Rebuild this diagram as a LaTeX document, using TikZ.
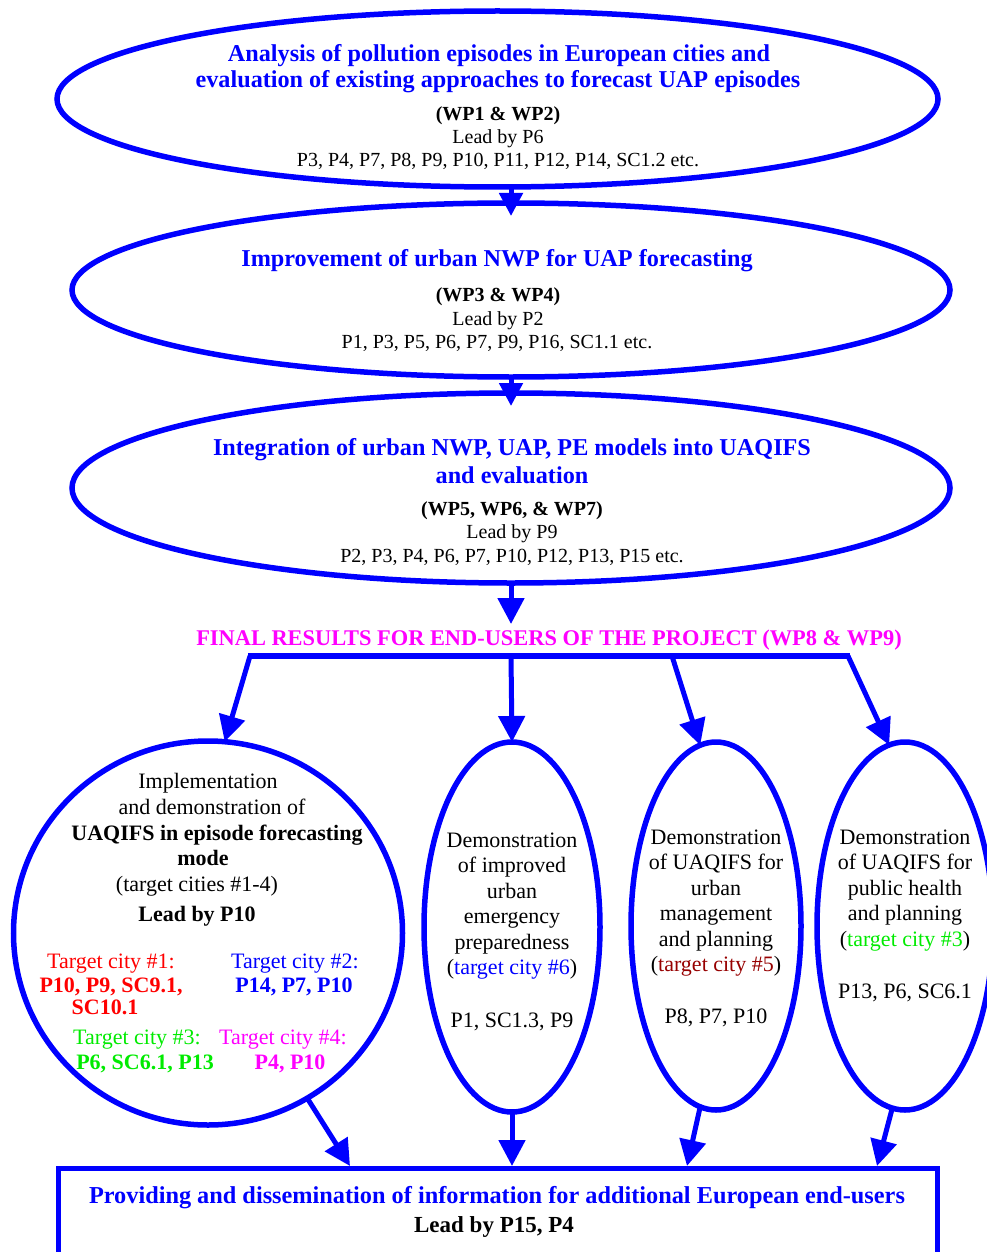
\documentclass[tikz,border=0pt]{standalone}
\usepackage{fontspec}
\setmainfont{Liberation Serif}
\usetikzlibrary{shapes.geometric,arrows.meta,calc}
\definecolor{pblue}{RGB}{0,0,255}
\definecolor{pmag}{RGB}{255,0,255}
\definecolor{pgreen}{RGB}{0,235,0}
\definecolor{pred}{RGB}{255,0,0}
\definecolor{pdred}{RGB}{150,0,0}
\begin{document}
\begin{tikzpicture}[x=1pt,y=-1pt,
  ell/.style={draw=pblue,line width=5.5pt,ellipse,inner sep=0pt,outer sep=0pt},
  title/.style={anchor=base,inner sep=0pt,text=pblue,font=\fontsize{24.2}{28}\selectfont\bfseries},
  info/.style={anchor=base,inner sep=0pt,font=\fontsize{20}{23}\selectfont},
  infob/.style={anchor=base,inner sep=0pt,font=\fontsize{20}{23}\selectfont\bfseries},
  body/.style={anchor=base,inner sep=0pt,font=\fontsize{22}{25.5}\selectfont},
  bodyb/.style={anchor=base,inner sep=0pt,font=\fontsize{22}{25.5}\selectfont\bfseries},
  arr/.style={draw=pblue,line width=5pt,-{Triangle[length=26pt,width=26pt]}},
  sarr/.style={draw=pblue,line width=5pt,-{Triangle[length=23pt,width=23pt]}}]
\useasboundingbox (0,0) rectangle (986,1252);

% top ellipses
\node[ell,minimum width=881pt,minimum height=176pt] (e1) at (497.5,99) {};
\node[ell,minimum width=878pt,minimum height=174pt] (e2) at (511,290) {};
\node[ell,minimum width=878pt,minimum height=190pt] (e3) at (511,488) {};

\node[title] (t1a) at (499,62) {Analysis of pollution episodes in European cities and};
\node[title] (t1b) at (498,88) {evaluation of existing approaches to forecast UAP episodes};
\node[infob] (t1c) at (498,121) {(WP1 \& WP2)};
\node[info] (t1d) at (498,144) {Lead by P6};
\node[info] (t1e) at (498,167) {P3, P4, P7, P8, P9, P10, P11, P12, P14, SC1.2 etc.};

\node[title] (t2a) at (497,266) {Improvement of urban NWP for UAP forecasting};
\node[infob] (t2b) at (498,301) {(WP3 \& WP4)};
\node[info] (t2c) at (498,325) {Lead by P2};
\node[info] (t2d) at (497,348) {P1, P3, P5, P6, P7, P9, P16, SC1.1 etc.};

\node[title] (t3a) at (512,455) {Integration of urban NWP, UAP, PE models into UAQIFS};
\node[title] (t3b) at (512,483) {and evaluation};
\node[infob] (t3c) at (512,515) {(WP5, WP6, \& WP7)};
\node[info] (t3d) at (512,538) {Lead by P9};
\node[info] (t3e) at (512,562) {P2, P3, P4, P6, P7, P10, P12, P13, P15 etc.};

\coordinate (a2) at ($(e2.north)+(0,13)$);
\coordinate (a3) at ($(e3.north)+(0,13)$);
\draw[sarr] (e1.south -| e2.north) -- (a2);
\draw[sarr] (e2.south -| e3.north) -- (a3);

% final results
\node[anchor=base,inner sep=0pt,text=pmag,font=\fontsize{22.4}{26}\selectfont\bfseries] (fin) at (549,645) {FINAL RESULTS FOR END-USERS OF THE PROJECT (WP8 \& WP9)};
\coordinate (fintop) at (511,624);
\draw[arr] (e3.south) -- (fintop);
\coordinate (bl) at (248,656);
\coordinate (b2) at (511,656);
\coordinate (b3) at (672,656);
\coordinate (br) at (850,656);
\draw[pblue,line width=6pt] (bl) -- (br);

% bottom ellipses
\node[ell,minimum width=389pt,minimum height=384pt] (c1) at (208,933) {};
\node[ell,minimum width=176pt,minimum height=370pt] (c2) at (512,927) {};
\node[ell,minimum width=170pt,minimum height=368pt] (c3) at (716,926) {};
\node[ell,minimum width=176pt,minimum height=368pt] (c4) at (905,926) {};

\draw[arr] ($(bl)+(2,0)$) -- (c1.85);
\draw[arr] (b2) -- (c2.north);
\draw[arr] (b3) -- (c3.95);
\draw[arr] ($(br)+(-2,0)$) -- (c4.95);

% circle text
\node[body] (c1a) at (208,788) {Implementation};
\node[body] (c1b) at (212,814) {and demonstration of};
\node[bodyb] (c1c) at (217,840) {UAQIFS in episode forecasting};
\node[bodyb] (c1d) at (203,865) {mode};
\node[body] (c1e) at (197,891) {(target cities \#1-4)};
\node[bodyb] (c1f) at (197,921) {Lead by P10};
\node[body,text=pred] (c1g) at (111,968) {Target city \#1:};
\node[bodyb,text=pred] (c1h) at (111,992) {P10, P9, SC9.1,};
\node[bodyb,text=pred] (c1i) at (105,1014) {SC10.1};
\node[body,text=pblue] (c1j) at (295,968) {Target city \#2:};
\node[bodyb,text=pblue] (c1k) at (294,992) {P14, P7, P10};
\node[body,text=pgreen] (c1l) at (137,1044) {Target city \#3:};
\node[bodyb,text=pgreen] (c1m) at (145,1069) {P6, SC6.1, P13};
\node[body,text=pmag] (c1n) at (283,1044) {Target city \#4:};
\node[bodyb,text=pmag] (c1o) at (290,1069) {P4, P10};

% ellipse 2 text
\node[body] (c2a) at (512,847) {Demonstration};
\node[body] (c2b) at (512,872.5) {of improved};
\node[body] (c2c) at (512,898) {urban};
\node[body] (c2d) at (512,923.5) {emergency};
\node[body] (c2e) at (512,949) {preparedness};
\node[body] (c2f) at (512,974.5) {(\textcolor{pblue}{target city \#6})};
\node[body] (c2g) at (512,1027) {P1, SC1.3, P9};

% ellipse 3 text
\node[body] (c3a) at (716,844) {Demonstration};
\node[body] (c3b) at (716,869.5) {of UAQIFS for};
\node[body] (c3c) at (716,895) {urban};
\node[body] (c3d) at (716,920.5) {management};
\node[body] (c3e) at (716,946) {and planning};
\node[body] (c3f) at (716,971.5) {(\textcolor{pdred}{target city \#5})};
\node[body] (c3g) at (716,1023) {P8, P7, P10};

% ellipse 4 text
\node[body] (c4a) at (905,844) {Demonstration};
\node[body] (c4b) at (905,869.5) {of UAQIFS for};
\node[body] (c4c) at (905,895) {public health};
\node[body] (c4d) at (905,920.5) {and planning};
\node[body] (c4e) at (905,946) {(\textcolor{pgreen}{target city \#3})};
\node[body] (c4f) at (905,998) {P13, P6, SC6.1};

% bottom rectangle
\node[draw=pblue,line width=5pt,rectangle,minimum width=879pt,minimum height=140pt,inner sep=0pt,anchor=north] (r) at (497.5,1166) {};
\node[anchor=base,inner sep=0pt,text=pblue,font=\fontsize{24.3}{28}\selectfont\bfseries] (r1) at (497,1203) {Providing and dissemination of information for additional European end-users};
\node[anchor=base,inner sep=0pt,font=\fontsize{23}{27}\selectfont\bfseries] (r2) at (494,1232) {Lead by P15, P4};

\coordinate (d1) at (350,1166);
\coordinate (d2) at (512,1166);
\coordinate (d3) at (687,1166);
\coordinate (d4) at (877,1166);
\draw[arr] (c1.-59) -- (d1);
\draw[arr] (c2.south) -- (d2);
\draw[arr] (c3.-95) -- (d3);
\draw[arr] (c4.-94) -- (d4);
\end{tikzpicture}
\end{document}
